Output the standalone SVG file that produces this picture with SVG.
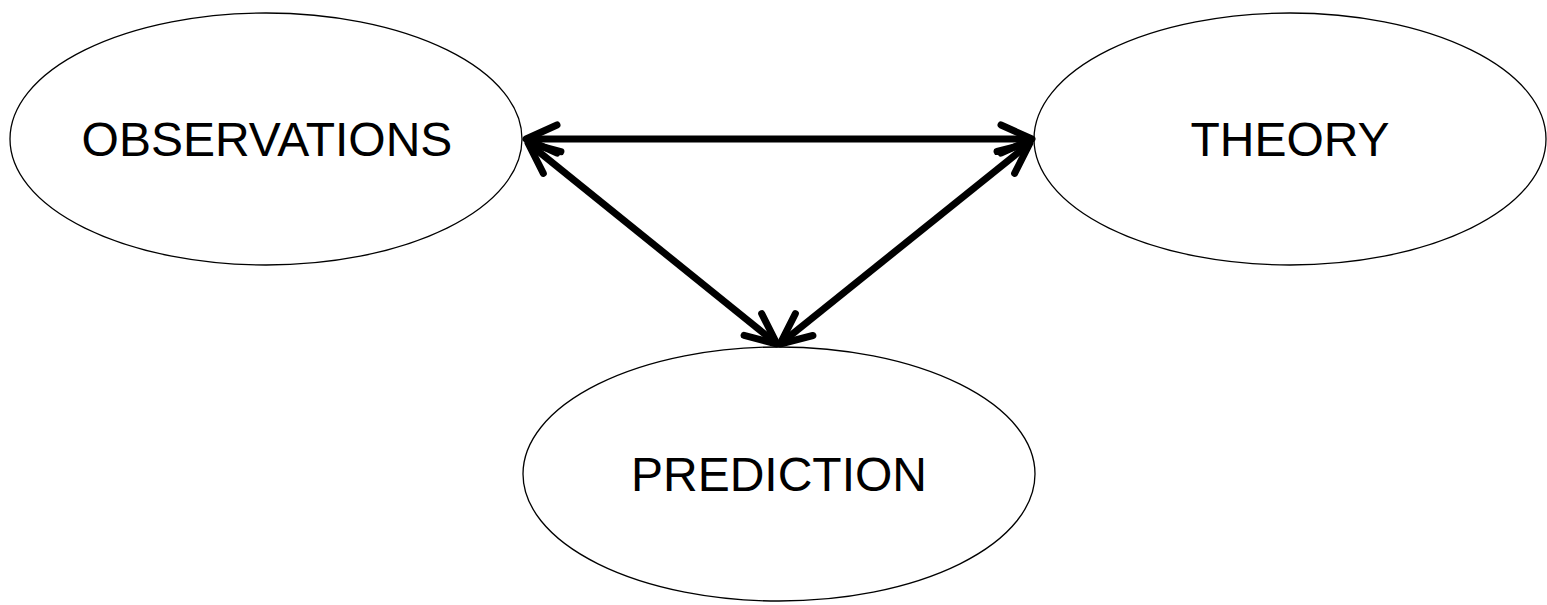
<svg xmlns="http://www.w3.org/2000/svg" width="1547" height="605" viewBox="0 0 1547 605">
<style>
.node ellipse{fill:#fff;stroke:#000;stroke-width:1.3}
.node text{font-family:"Liberation Sans",Arial,sans-serif;font-size:48px;fill:#000;text-anchor:middle}
.conn line{stroke:#000;stroke-width:7;marker-start:url(#ah);marker-end:url(#ah)}
</style>
<defs>
<marker id="ah" markerUnits="userSpaceOnUse" orient="auto-start-reverse" refX="0" refY="0" markerWidth="50" markerHeight="50" viewBox="-40 -20 50 40" overflow="visible">
<path d="M-31,-14 L0,0 L-31,14" fill="none" stroke="#000" stroke-width="7" stroke-linecap="round" stroke-linejoin="round"/>
</marker>
</defs>
<rect width="1547" height="605" fill="#fff"/>
<g id="observations" class="node"><ellipse cx="266" cy="139" rx="256" ry="126"/><text x="267" y="156">OBSERVATIONS</text></g>
<g id="theory" class="node"><ellipse cx="1290" cy="139" rx="256" ry="126"/><text x="1290" y="156">THEORY</text></g>
<g id="prediction" class="node"><ellipse cx="779" cy="474" rx="256" ry="127"/><text x="779" y="491">PREDICTION</text></g>
<g id="connectors" class="conn">
<line x1="526" y1="139" x2="1032" y2="139"/>
<line x1="528" y1="143" x2="777" y2="344"/>
<line x1="1030" y1="143" x2="780" y2="344"/>
</g>
</svg>
